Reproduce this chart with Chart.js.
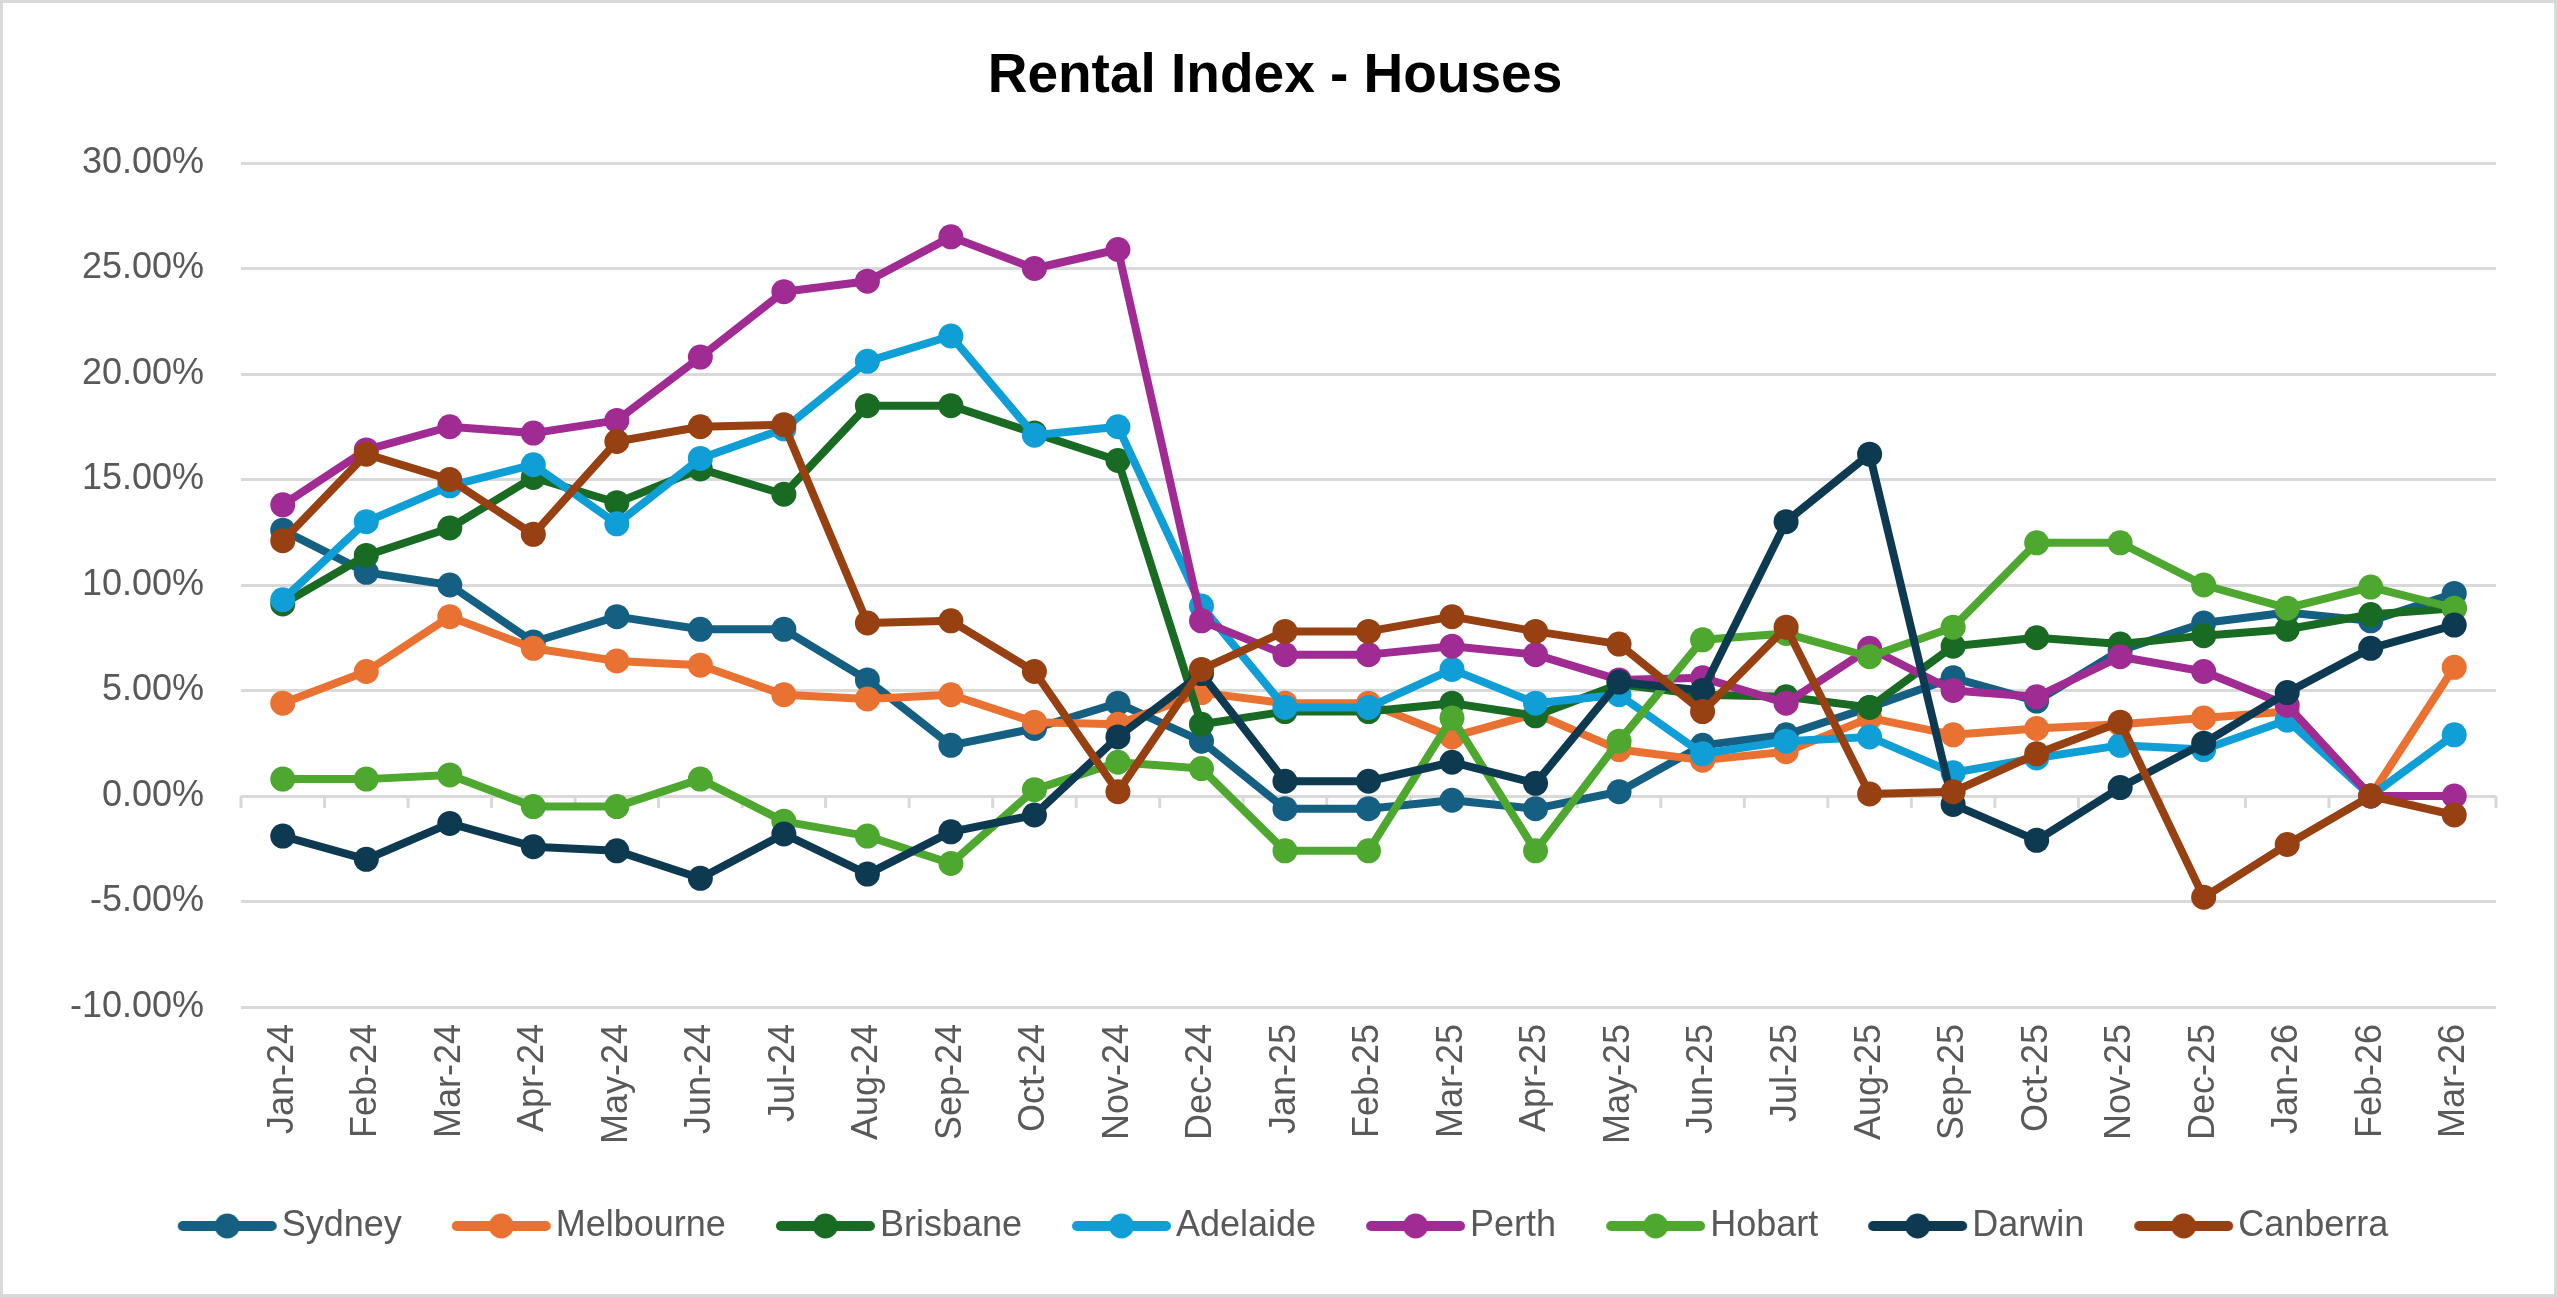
<!DOCTYPE html>
<html>
<head>
<meta charset="utf-8">
<script src="https://cdn.jsdelivr.net/npm/chart.js@4.4.1/dist/chart.umd.min.js"></script>
<style>
  html, body { margin: 0; padding: 0; background: #ffffff; }
  canvas { display: block; }
</style>
</head>
<body>
<canvas id="chart" width="2557" height="1297"></canvas>
<script>
// ---- Data (percent values) ----
const categories = ['Jan-24','Feb-24','Mar-24','Apr-24','May-24','Jun-24','Jul-24','Aug-24','Sep-24','Oct-24','Nov-24','Dec-24',
                    'Jan-25','Feb-25','Mar-25','Apr-25','May-25','Jun-25','Jul-25','Aug-25','Sep-25','Oct-25','Nov-25','Dec-25',
                    'Jan-26','Feb-26','Mar-26'];

const sydney    = [12.6, 10.6, 10.0, 7.3, 8.5, 7.9, 7.9, 5.5, 2.4, 3.2, 4.4, 2.6, -0.6, -0.6, -0.2, -0.6, 0.2, 2.4, 2.9, 4.2, 5.6, 4.5, 6.9, 8.2, 8.7, 8.3, 9.6];
const melbourne = [4.4, 5.9, 8.5, 7.0, 6.4, 6.2, 4.8, 4.6, 4.8, 3.5, 3.4, 4.9, 4.4, 4.4, 2.8, 3.9, 2.2, 1.7, 2.1, 3.7, 2.9, 3.2, 3.4, 3.7, 4.0, 0.0, 6.1];
const brisbane  = [9.1, 11.4, 12.7, 15.1, 13.9, 15.5, 14.3, 18.5, 18.5, 17.2, 15.9, 3.4, 4.0, 4.0, 4.4, 3.8, 5.3, 4.8, 4.7, 4.2, 7.1, 7.5, 7.2, 7.6, 7.9, 8.6, 8.9];
const adelaide  = [9.3, 13.0, 14.7, 15.7, 12.9, 16.0, 17.4, 20.6, 21.8, 17.1, 17.5, 9.0, 4.2, 4.2, 6.0, 4.4, 4.8, 2.0, 2.6, 2.8, 1.1, 1.8, 2.4, 2.2, 3.6, 0.0, 2.9];
const perth     = [13.8, 16.4, 17.5, 17.2, 17.8, 20.8, 23.9, 24.4, 26.5, 25.0, 25.9, 8.3, 6.7, 6.7, 7.1, 6.7, 5.5, 5.6, 4.4, 7.0, 5.0, 4.7, 6.6, 5.9, 4.3, 0.0, 0.0];
const hobart    = [0.8, 0.8, 1.0, -0.5, -0.5, 0.8, -1.2, -1.9, -3.2, 0.3, 1.6, 1.3, -2.6, -2.6, 3.7, -2.6, 2.6, 7.4, 7.7, 6.6, 8.0, 12.0, 12.0, 10.0, 8.9, 9.9, 8.9];
const darwin    = [-1.9, -3.0, -1.3, -2.4, -2.6, -3.9, -1.8, -3.7, -1.7, -0.9, 2.8, 5.8, 0.7, 0.7, 1.6, 0.6, 5.4, 5.0, 13.0, 16.2, -0.4, -2.1, 0.4, 2.5, 4.9, 7.0, 8.1];
const canberra  = [12.1, 16.2, 15.0, 12.4, 16.8, 17.5, 17.6, 8.2, 8.3, 5.9, 0.2, 6.0, 7.8, 7.8, 8.5, 7.8, 7.2, 4.0, 8.0, 0.1, 0.2, 2.0, 3.5, -4.8, -2.3, 0.0, -0.9];

const seriesNames  = ['Sydney', 'Melbourne', 'Brisbane', 'Adelaide', 'Perth', 'Hobart', 'Darwin', 'Canberra'];
const seriesData   = [sydney, melbourne, brisbane, adelaide, perth, hobart, darwin, canberra];
const seriesColors = ['#156082', '#E97132', '#196B24', '#0F9ED5', '#A02B93', '#4EA72E', '#0E3A51', '#974012'];

const yMin = -10, yMax = 30, yStep = 5;
const chartTitle = 'Rental Index - Houses';

// ---- Styling ----
const FONT = 'Liberation Sans, Arial, sans-serif';
const TEXT_GREY = '#595959';
const GRID_GREY = '#D9D9D9';

function legendIcon(color) {
  const c = document.createElement('canvas');
  c.width = 130; c.height = 30;
  const g = c.getContext('2d');
  g.strokeStyle = color; g.lineWidth = 10; g.lineCap = 'round';
  g.beginPath(); g.moveTo(35, 15); g.lineTo(124, 15); g.stroke();
  g.fillStyle = color;
  g.beginPath(); g.arc(79.5, 15, 12.5, 0, Math.PI * 2); g.fill();
  return c;
}
const legendIcons = seriesColors.map(legendIcon);

const datasets = seriesNames.map((name, i) => ({
  label: name,
  data: seriesData[i],
  borderColor: seriesColors[i],
  backgroundColor: seriesColors[i],
  pointBackgroundColor: seriesColors[i],
  pointBorderColor: seriesColors[i],
  borderWidth: 8,
  pointRadius: 12.5,
  pointHoverRadius: 12.5,
  pointBorderWidth: 0,
  borderJoinStyle: 'round',
  borderCapStyle: 'round',
  tension: 0,
  order: seriesNames.length - i
}));

const frameBorder = {
  id: 'frameBorder',
  beforeDraw(chart) {
    const ctx = chart.ctx;
    ctx.save();
    ctx.fillStyle = '#ffffff';
    ctx.fillRect(0, 0, chart.width, chart.height);
    ctx.strokeStyle = GRID_GREY;
    ctx.lineWidth = 3;
    ctx.strokeRect(1.5, 1.5, chart.width - 3, chart.height - 3);
    ctx.restore();
  }
};

const zeroAxisTicks = {
  id: 'zeroAxisTicks',
  beforeDatasetsDraw(chart) {
    const x = chart.scales.x, y = chart.scales.y;
    const ctx = chart.ctx;
    const y0 = y.getPixelForValue(0);
    const n = categories.length;
    const step = (x.getPixelForValue(n - 1) - x.getPixelForValue(0)) / (n - 1);
    ctx.save();
    ctx.strokeStyle = GRID_GREY;
    ctx.lineWidth = 3;
    ctx.beginPath();
    for (let i = 0; i <= n; i++) {
      const px = x.getPixelForValue(0) - step / 2 + i * step;
      ctx.moveTo(px, y0);
      ctx.lineTo(px, y0 + 12);
    }
    ctx.stroke();
    ctx.restore();
  }
};

new Chart(document.getElementById('chart'), {
  type: 'line',
  data: { labels: categories, datasets },
  plugins: [frameBorder, zeroAxisTicks],
  options: {
    responsive: false,
    animation: false,
    devicePixelRatio: 1,
    layout: { padding: { left: 54, right: 61, top: 0, bottom: 43 } },
    plugins: {
      title: {
        display: true,
        text: chartTitle,
        color: '#000000',
        font: { family: FONT, size: 55, weight: 'bold' },
        padding: { top: 44, bottom: 53 }
      },
      legend: {
        position: 'bottom',
        labels: {
          usePointStyle: true,
          pointStyleWidth: 102,
          padding: 34,
          color: TEXT_GREY,
          font: { family: FONT, size: 36 },
          sort: (a, b) => a.datasetIndex - b.datasetIndex,
          generateLabels: (chart) => {
            const items = Chart.defaults.plugins.legend.labels.generateLabels(chart);
            items.forEach(it => { it.pointStyle = legendIcons[it.datasetIndex]; });
            return items;
          }
        }
      },
      tooltip: { enabled: false }
    },
    scales: {
      x: {
        offset: true,
        grid: { display: false, drawTicks: false },
        border: { display: false },
        ticks: {
          autoSkip: false, minRotation: 90, maxRotation: 90, padding: 17,
          color: TEXT_GREY, font: { family: FONT, size: 36 }
        },
        afterFit: (axis) => { axis.height = 167; }
      },
      y: {
        min: yMin, max: yMax,
        grid: { color: GRID_GREY, lineWidth: 3, drawTicks: false },
        border: { display: false },
        ticks: {
          stepSize: yStep, padding: 37,
          color: TEXT_GREY, font: { family: FONT, size: 36 },
          callback: (v) => Number(v).toFixed(2) + '%'
        },
        afterFit: (axis) => { axis.width = 187; }
      }
    }
  }
});
</script>
</body>
</html>
